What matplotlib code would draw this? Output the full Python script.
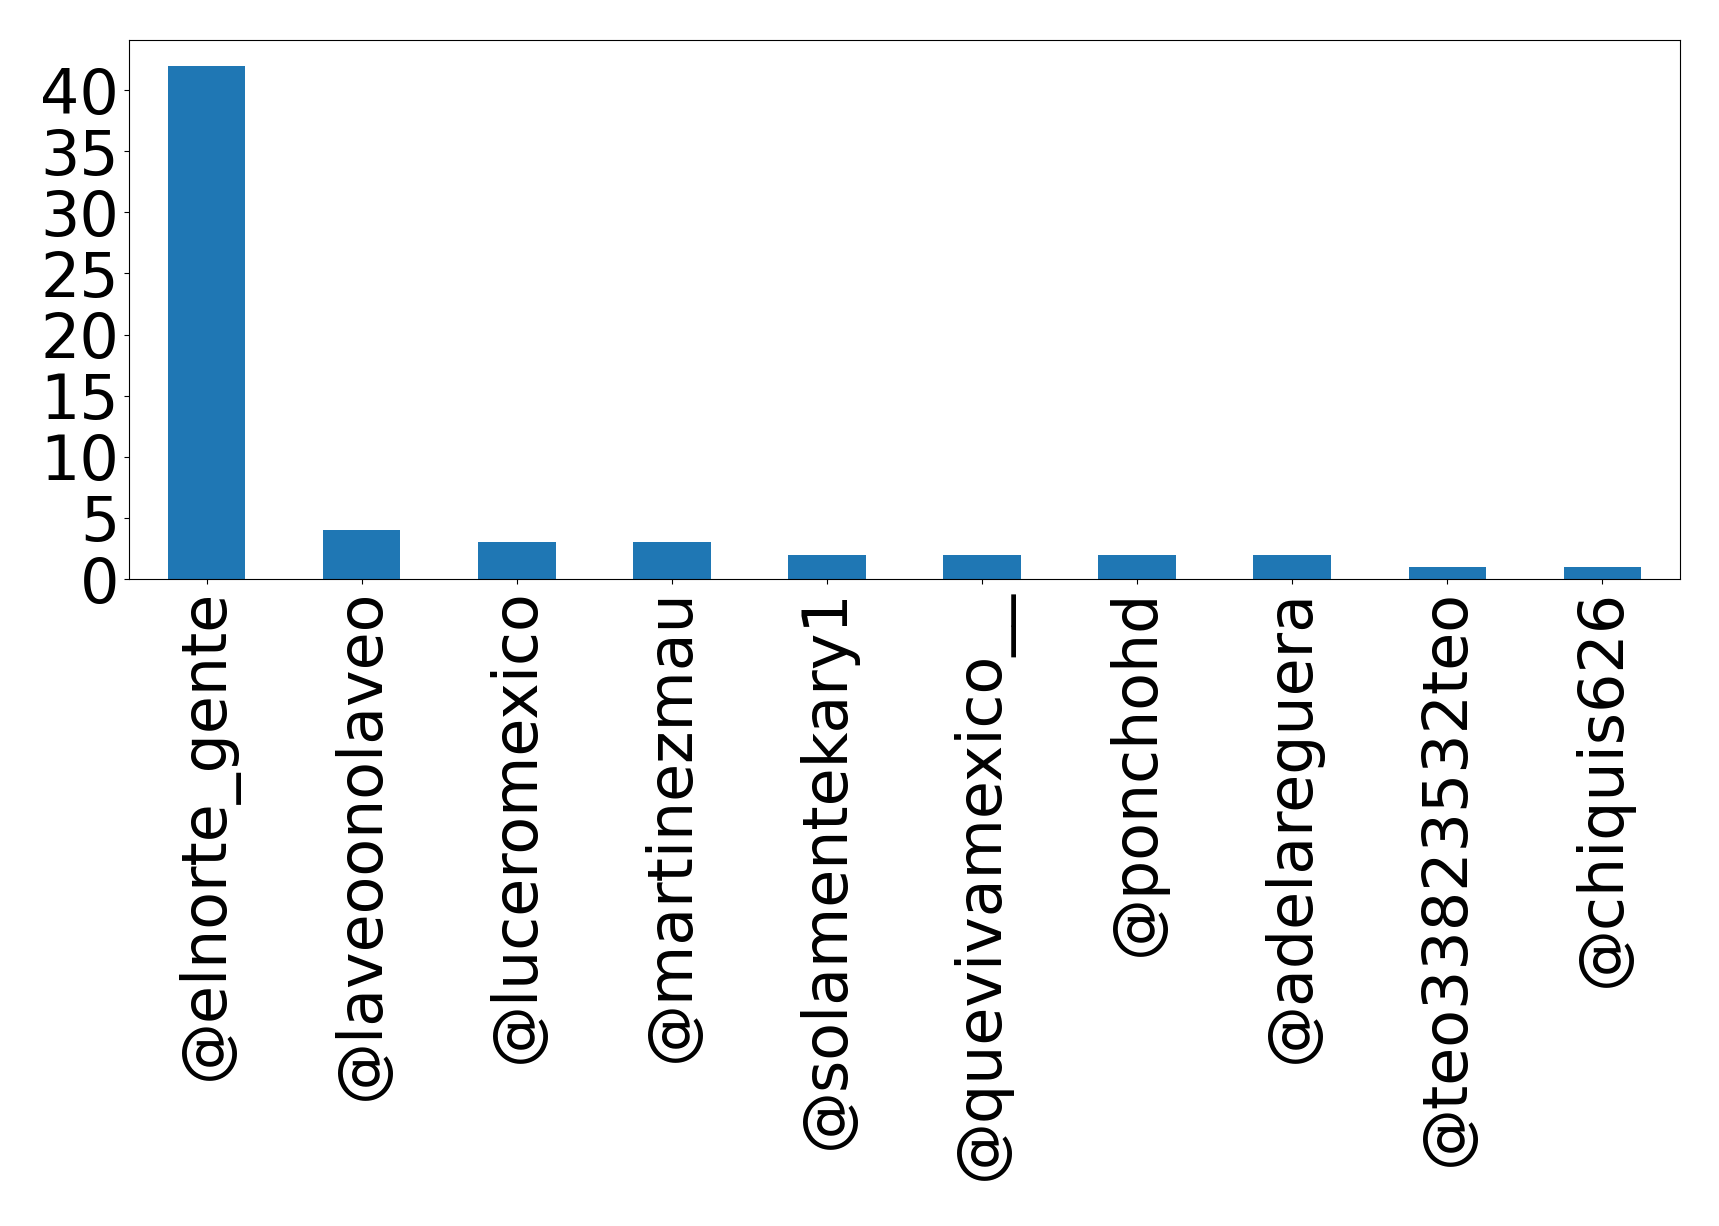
import matplotlib.pyplot as plt
import numpy as np

users = ['@elnorte_gente', '@laveoonolaveo', '@luceromexico', '@martinezmau',
         '@solamentekary1', '@quevivamexico__', '@ponchohd', '@adelareguera',
         '@teo33823532teo', '@chiquis626']
counts = [42, 4, 3, 3, 2, 2, 2, 2, 1, 1]
yticks = [0, 5, 10, 15, 20, 25, 30, 35, 40]

fig = plt.figure(figsize=(17.19, 12.26), dpi=100)
ax = fig.add_axes([129/1719, 1 - 579/1226, (1680-129)/1719, (579-40)/1226])

x = np.arange(len(users))
ax.bar(x, counts, width=0.5, color='#1f77b4')
ax.set_xlim(-0.5, len(users) - 0.5)
ax.set_xticks(x)
ax.set_xticklabels(users, rotation=90)
ax.set_yticks(yticks)
ax.tick_params(labelsize=44.6)

fig.savefig('out.png', dpi=100)
